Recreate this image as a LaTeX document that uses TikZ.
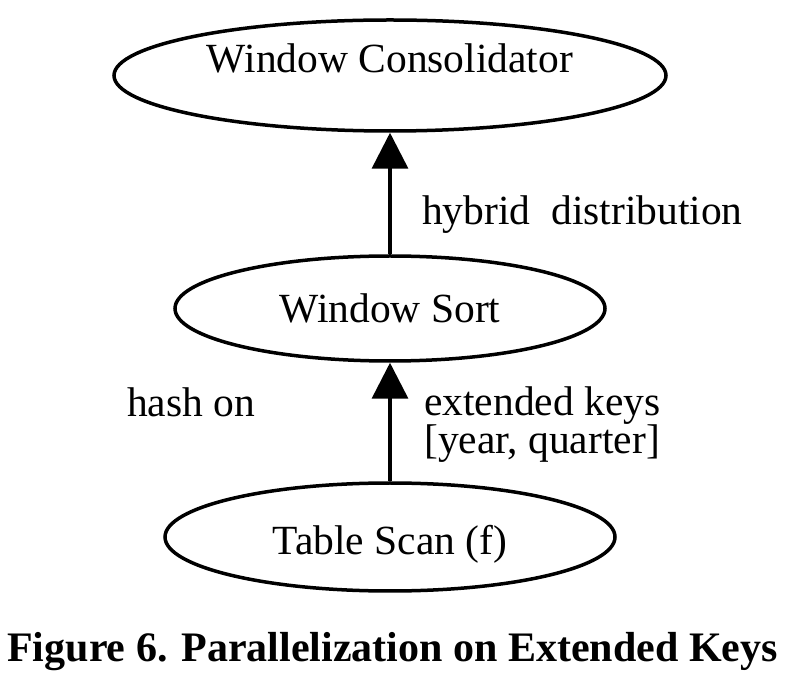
\documentclass[tikz,border=0pt]{standalone}
\usepackage{fontspec}
\setmainfont{Liberation Serif}
\usetikzlibrary{shapes.geometric,arrows.meta}
\begin{document}
\begin{tikzpicture}[x=1pt,y=-1pt,
  opbox/.style={draw,ellipse,line width=3.5pt,inner sep=0pt},
  optext/.style={anchor=base,inner sep=0pt,font=\fontsize{41.5}{45}\selectfont},
  lbl/.style={anchor=base west,inner sep=0pt,font=\fontsize{41.5}{37}\selectfont},
  flow/.style={line width=3.5pt,-{Triangle[length=36pt,width=36pt]}}]
\useasboundingbox (0,0) rectangle (788,684);
\fill[white] (0,0) rectangle (788,684);
\node[opbox,minimum width=552pt,minimum height=111pt] (wc) at (390,75.5) {};
\node[optext] (wct) at (390,73) {Window Consolidator};
\node[opbox,minimum width=430pt,minimum height=105pt] (ws) at (390,308.5) {};
\node[optext] (wst) at (390,323) {Window Sort};
\node[opbox,minimum width=450pt,minimum height=108pt] (ts) at (390,537) {};
\node[optext] (tst) at (390,555) {Table Scan (f)};
\draw[flow] (ws.north) -- (wc.south);
\draw[flow] (ts.north) -- (ws.south);
\node[lbl] (l1) at (422,225) {hybrid\ \ distribution};
\node[lbl] (l2) at (127,417) {hash on};
\node[lbl,align=left] (l3) at (424,454) {extended keys\\\relax{}[year, quarter]};
\node[anchor=base,inner sep=0pt,font=\fontsize{42}{46}\selectfont\bfseries] (cap) at (392.5,662) {Figure 6. Parallelization on Extended Keys};
\end{tikzpicture}
\end{document}
